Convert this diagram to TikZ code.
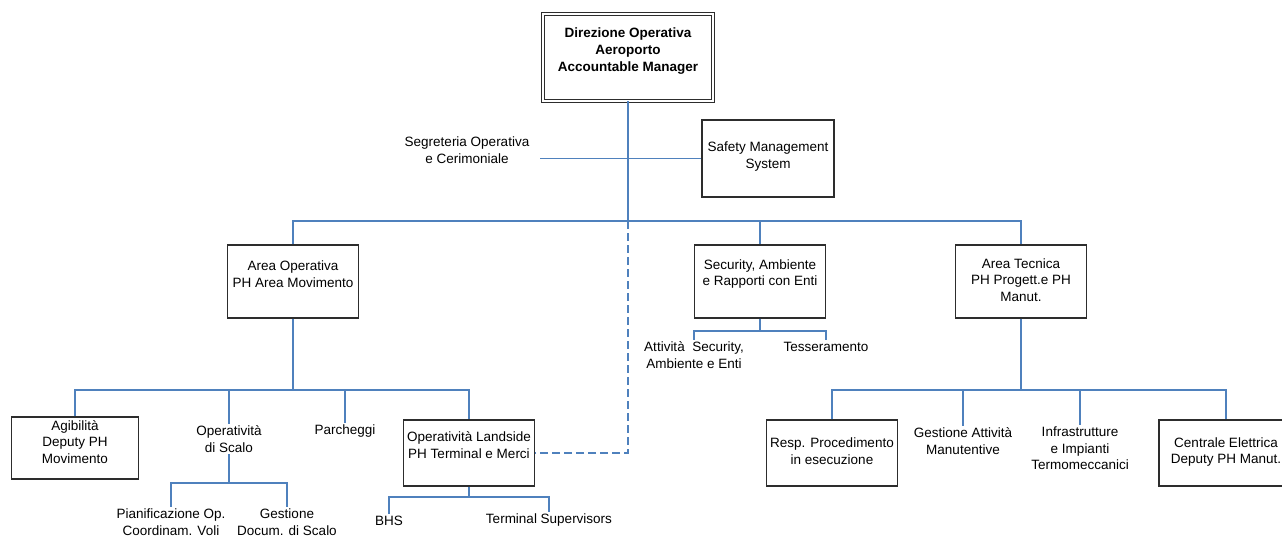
\documentclass[tikz,border=0pt]{standalone}
\usepackage{fontspec}
\setmainfont{Liberation Sans}
\usepackage{tikz}
\definecolor{orgblue}{RGB}{79,129,189}
\definecolor{boxgray}{RGB}{45,45,45}
\tikzset{
  unitbox/.style={draw=boxgray, line width=1.2pt, minimum width=131pt, minimum height=66pt, inner sep=0pt},
  lbl/.style={align=center, inner sep=2pt, font=\fontsize{13.5}{16.5}\selectfont},
  link/.style={orgblue, line width=1.6pt},
  dashlink/.style={orgblue, line width=1.2pt, dash pattern=on 8pt off 4pt}
}

\begin{document}
\begin{tikzpicture}[x=1pt,y=-1pt]
\useasboundingbox (0,0) rectangle (1282,538);
\clip (0,0) rectangle (1282,538);

\node[draw=boxgray, double, double distance=2.2pt, line width=0.9pt, minimum width=170pt, minimum height=87pt] (direz) at (628,57.5) {};
\node[lbl, font=\bfseries\fontsize{13.5}{17}\selectfont] (direz-t) at (628,51) {Direzione Operativa\\Aeroporto\\Accountable Manager};
\node[lbl] (segr) at (467,150) {Segreteria Operativa\\e Cerimoniale};
\node[unitbox, minimum width=132pt, minimum height=77pt] (sms) at (768,158.5) {};
\node[lbl] (sms-t) at (768,156.5) {Safety Management\\System};

\node[unitbox, minimum height=73pt] (areaop) at (293,281.5) {};
\node[lbl] (areaop-t) at (293,274) {Area Operativa\\PH Area Movimento};
\node[unitbox, minimum height=73pt] (secur) at (760,281.5) {};
\node[lbl] (secur-t) at (760,274) {Security, Ambiente\\e Rapporti con Enti};
\node[unitbox, minimum height=73pt] (areatec) at (1021,281.5) {};
\node[lbl] (areatec-t) at (1021,280) {Area Tecnica\\PH Progett.e PH\\Manut.};

\node[lbl] (attsec) at (694,355) {Attività~~Security,\\Ambiente e Enti};
\node[lbl] (tesser) at (826,347) {Tesseramento};

\node[unitbox, minimum width=127pt, minimum height=62pt] (agib) at (75,448) {};
\node[lbl] (agib-t) at (75,442) {Agibilità\\Deputy PH\\Movimento};
\node[lbl] (opscalo) at (229,439) {Operatività\\di Scalo};
\node[lbl] (parch) at (345,431) {Parcheggi};
\node[unitbox] (landside) at (469,453) {};
\node[lbl] (landside-t) at (469,445) {Operatività Landside\\PH Terminal e Merci};
\node[lbl] (pianif) at (171,522) {Pianificazione Op.\\Coordinam. Voli};
\node[lbl] (gestdoc) at (287,522) {Gestione\\Docum. di Scalo};
\node[lbl] (bhs) at (389,521) {BHS};
\node[lbl] (termsup) at (549,520) {Terminal Supervisors};

\node[unitbox] (resp) at (832,453) {};
\node[lbl] (resp-t) at (832,451) {Resp. Procedimento\\in esecuzione};
\node[lbl] (gestman) at (963,441) {Gestione Attività\\Manutentive};
\node[lbl] (infra) at (1080,448.5) {Infrastrutture\\e Impianti\\Termomeccanici};
\node[unitbox, minimum width=134pt] (centr) at (1226,453) {};
\node[lbl] (centr-t) at (1226,452) {Centrale Elettrica\\Deputy PH Manut.};

\coordinate (top) at (628,221);
\coordinate (segend) at (540,158.5);
\coordinate (opsbus) at (293,390);
\coordinate (secbus) at (760,331);
\coordinate (tecbus) at (1021,390);
\coordinate (scalobus) at (229,483);
\coordinate (landbus) at (469,497);

\draw[link] (direz.south) -- (top);
\draw[link] (segend) -- (sms.west);
\draw[link] (areaop.north) |- (top) -| (areatec.north);
\draw[link] (top) -| (secur.north);
\draw[dashlink] (top) |- (landside.east);

\draw[link] (secur.south) -- (secbus);
\draw[link] (attsec.north) |- (secbus) -| (tesser.north);

\draw[link] (areaop.south) -- (opsbus);
\draw[link] (agib.north) |- (opsbus) -| (landside.north);
\draw[link] (opsbus) -| (opscalo.north);
\draw[link] (opsbus) -| (parch.north);
\draw[link] (opscalo.south) -- (scalobus);
\draw[link] (pianif.north) |- (scalobus) -| (gestdoc.north);
\draw[link] (landside.south) -- (landbus);
\draw[link] (bhs.north) |- (landbus) -| (termsup.north);

\draw[link] (areatec.south) -- (tecbus);
\draw[link] (resp.north) |- (tecbus) -| (centr.north);
\draw[link] (tecbus) -| (gestman.north);
\draw[link] (tecbus) -| (infra.north);
\end{tikzpicture}
\end{document}
